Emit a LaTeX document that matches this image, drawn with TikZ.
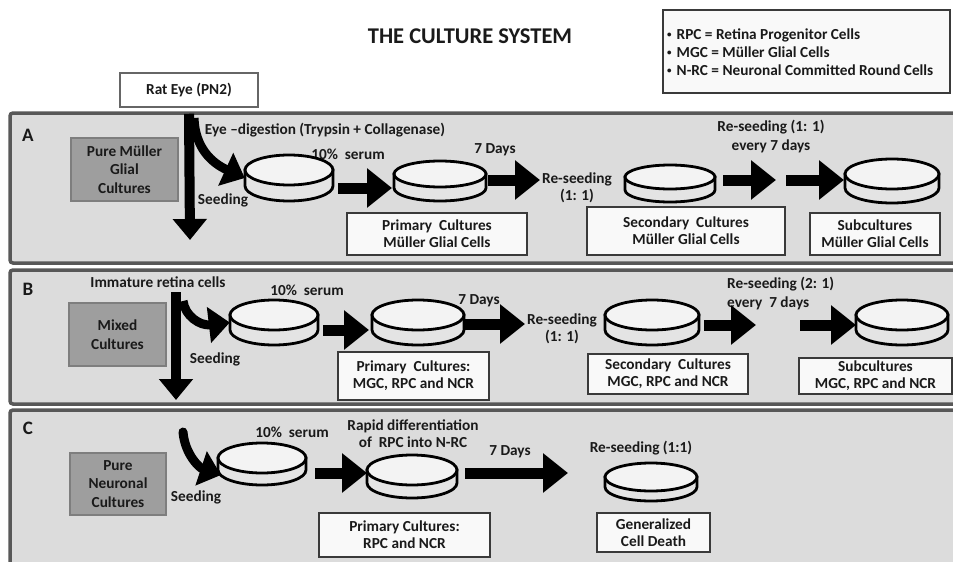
\documentclass[tikz,border=0pt]{standalone}
\usepackage{fontspec}
\setmainfont{Carlito}
\usetikzlibrary{arrows.meta}
\definecolor{panelfill}{HTML}{DCDCDC}
\definecolor{panelline}{HTML}{585858}
\definecolor{darkfill}{HTML}{9E9E9E}
\definecolor{darkline}{HTML}{7E7E7E}
\definecolor{boxline}{HTML}{3A3A3A}
\definecolor{boxfill}{HTML}{F9F9F9}
\definecolor{dishtop}{HTML}{F3F3F3}
\definecolor{dishside}{HTML}{E4E4E4}
\definecolor{ink}{HTML}{1A1A1A}
\newcommand\dish[6]{%
  \filldraw[dishline, fill=dishside] ({#2-#4},#3) -- ({#2-#4},{#3+#6})
    arc[start angle=180, end angle=0, x radius=#4, y radius=#5] -- ({#2+#4},#3) -- cycle;
  \filldraw[dishline, fill=dishtop] (#2,#3) ellipse [x radius=#4, y radius=#5];
  \node[inner sep=0pt, minimum width={2*#4}, minimum height={2*#5+#6}] (#1) at (#2,{#3+#6/2}) {};
}
\newcommand\lbul{{\fontsize{9}{9}\selectfont\raisebox{2pt}{•}}\hspace{5pt}}
\begin{document}
\begin{tikzpicture}[x=1pt,y=-1pt,
  txt/.style={font=\bfseries\fontsize{15.3}{17}\selectfont, text=ink, inner sep=0pt, align=center},
  wbox/.style={txt, draw=boxline, line width=1.3pt, fill=boxfill},
  dbox/.style={txt, draw=darkline, line width=1.5pt, fill=darkfill, font=\bfseries\fontsize{15.3}{18.5}\selectfont},
  panel/.style={draw=panelline, line width=3.5pt, fill=panelfill, rounded corners=3pt},
  plabel/.style={font=\bfseries\fontsize{19}{19}\selectfont, text=ink, inner sep=0pt},
  dishline/.style={draw=black, line width=2.8pt},
  barrow/.style={draw=black, line width=11pt, -{Triangle[length=25pt,width=38pt]}},
  varrow/.style={draw=black, line width=10pt, -{Triangle[length=21pt,width=33pt]}},
  carrow/.style={draw=black, line width=9pt, -{Triangle[length=21pt,width=35pt]}},
]
\useasboundingbox (0,0) rectangle (953,562);
\clip (0,0) rectangle (953,562);
\fill[white] (0,0) rectangle (953,562);

% title and legend
\node[font=\bfseries\fontsize{22.5}{22.5}\selectfont, text=ink, inner sep=0pt] (title) at (470,36) {THE CULTURE SYSTEM};
\node[draw=boxline, line width=2pt, fill=boxfill, minimum width=287pt, minimum height=83pt, inner sep=0pt] (legend) at (806.5,51.5) {};
\node[txt, align=left, anchor=west, font=\bfseries\fontsize{15.3}{18}\selectfont] (legendtext) at (667,52)
  {\lbul RPC = Retina Progenitor Cells\\
   \lbul MGC = Müller Glial Cells\\
   \lbul N-RC = Neuronal Committed Round Cells};

\node[txt, draw=black!60, line width=1.5pt, fill=white, minimum width=138pt, minimum height=34pt] (rat) at (189,90) {Rat Eye (PN2)};

% panels
\draw[panel] (10,113) rectangle (975,263);
\draw[panel] (10,270) rectangle (975,404);
\draw[panel] (10,410) rectangle (975,590);

\node[plabel] (labA) at (28,135) {A};
\node[plabel] (labB) at (28,289) {B};
\node[plabel] (labC) at (28,428) {C};

% ---------- panel A ----------
\node[dbox, minimum width=107pt, minimum height=63pt] (dA) at (124.5,169.5) {Pure Müller\\Glial\\Cultures};
\node[txt] (digest) at (325,130) {Eye –digestion (Trypsin + Collagenase)};
\node[txt] (serumA) at (348,154) {10\%\ \ serum};
\node[txt] (daysA) at (495,150) {7 Days};
\node[txt] (seedA) at (223,200) {Seeding};
\node[txt] (reA) at (577,187.5) {Re-seeding\\(1: 1)};
\node[txt, font=\bfseries\fontsize{15.3}{19}\selectfont] (reA2) at (771,136.5) {Re-seeding (1: 1)\\every 7 days};

\dish{A1}{289}{170}{44}{15}{16}
\dish{A2}{440}{174}{46}{13}{14}
\dish{A3}{670}{177}{45}{12}{13}
\dish{A4}{892}{174}{47}{15}{14}

\node[wbox, minimum width=180pt, minimum height=42pt] (pA) at (437,234) {Primary\ \ Cultures\\Müller Glial Cells};
\node[wbox, minimum width=198pt, minimum height=48pt] (sA) at (686,231) {Secondary\ \ Cultures\\Müller Glial Cells};
\node[wbox, minimum width=130pt, minimum height=42pt] (uA) at (875,234) {Subcultures\\Müller Glial Cells};

\coordinate (vAend) at (190,240);
\draw[varrow] ([yshift=-6pt]rat.south) -- (vAend);
\draw[carrow] (194,118) .. controls (195,148) and (212,163) .. (A1.west);

\coordinate (a1s) at (338,188); \coordinate (a1e) at (392,188);
\coordinate (a2s) at (488,180); \coordinate (a2e) at (540,180);
\coordinate (a3s) at (723,180); \coordinate (a3e) at (776,180);
\coordinate (a4s) at (786,180); \coordinate (a4e) at (844,180);
\draw[barrow] (a1s) -- (a1e);
\draw[barrow] (a2s) -- (a2e);
\draw[barrow] (a3s) -- (a3e);
\draw[barrow] (a4s) -- (a4e);

% ---------- panel B ----------
\node[dbox, minimum width=97pt, minimum height=63pt] (dB) at (117.5,334.5) {Mixed\\Cultures};
\node[txt] (immature) at (158,282) {Immature retina cells};
\node[txt] (serumB) at (307,290) {10\%\ \ serum};
\node[txt] (seedB) at (215,359) {Seeding};
\node[txt] (daysB) at (479,301) {7 Days};
\node[txt] (reB) at (562,329) {Re-seeding\\(1: 1)};
\node[txt, align=left, anchor=west, font=\bfseries\fontsize{15.3}{19}\selectfont] (reB2) at (727,293.5) {Re-seeding (2: 1)\\every\ \ 7 days};

\dish{B1}{274}{315}{44}{15}{15}
\dish{B2}{418}{315}{46}{15}{15}
\dish{B3}{652}{315}{47}{15}{15}
\dish{B4}{902}{315}{46}{15}{15}

\node[wbox, minimum width=151pt, minimum height=48pt] (pB) at (413.5,376) {Primary\ \ Cultures:\\MGC, RPC and NCR};
\node[wbox, minimum width=160pt, minimum height=40pt] (sB) at (668,374) {Secondary\ \ Cultures\\MGC, RPC and NCR};
\node[wbox, minimum width=153pt, minimum height=36pt] (uB) at (875.5,376) {Subcultures\\MGC, RPC and NCR};

\coordinate (vBs) at (176,292); \coordinate (vBe) at (176,400);
\draw[varrow] (vBs) -- (vBe);
\draw[carrow] (183,301) .. controls (185,316) and (200,326) .. (B1.west);

\coordinate (b1s) at (323,330); \coordinate (b1e) at (369,330);
\coordinate (b2s) at (465,324); \coordinate (b2e) at (525,324);
\coordinate (b3s) at (704,325); \coordinate (b3e) at (756,325);
\coordinate (b4s) at (800,325); \coordinate (b4e) at (856,325);
\draw[barrow] (b1s) -- (b1e);
\draw[barrow] (b2s) -- (b2e);
\draw[barrow] (b3s) -- (b3e);
\draw[barrow] (b4s) -- (b4e);

% ---------- panel C ----------
\node[dbox, minimum width=96pt, minimum height=62pt] (dC) at (118,484) {Pure\\Neuronal\\Cultures};
\node[txt] (serumC) at (292,432) {10\%\ \ serum};
\node[txt] (seedC) at (196,497) {Seeding};
\node[txt] (rapid) at (413,434) {Rapid differentiation\\of\ \ RPC into N-RC};
\node[txt] (daysC) at (510,452) {7 Days};
\node[txt] (reC) at (641,448) {Re-seeding (1:1)};

\dish{C1}{262}{458}{44}{15}{12}
\dish{C2}{412}{470}{45}{15}{13}
\dish{C3}{651}{477}{46}{14}{10}

\node[wbox, minimum width=171pt, minimum height=44pt] (pC) at (404.5,535) {Primary Cultures:\\RPC and NCR};
\node[wbox, minimum width=113pt, minimum height=39pt] (gC) at (653.5,532.5) {Generalized\\Cell Death};

\coordinate (cCs) at (183,432);
\draw[carrow, line cap=round] (cCs) .. controls (185,455) and (200,468) .. (221,475);

\coordinate (c1s) at (315,473); \coordinate (c1e) at (367,473);
\coordinate (c2s) at (465,473); \coordinate (c2e) at (568,473);
\draw[barrow] (c1s) -- (c1e);
\draw[barrow] (c2s) -- (c2e);
\end{tikzpicture}
\end{document}
